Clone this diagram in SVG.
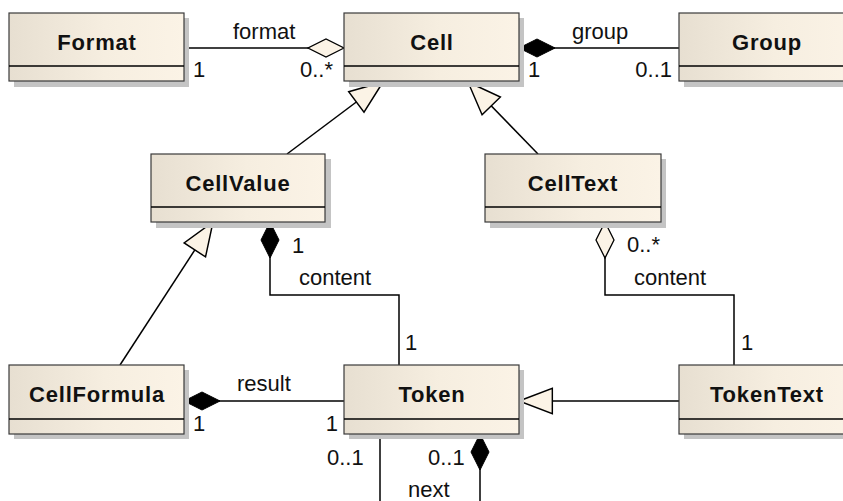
<svg xmlns="http://www.w3.org/2000/svg" width="843" height="501" viewBox="0 0 843 501">
<defs>
<linearGradient id="fill" x1="0" y1="0" x2="1" y2="0">
<stop offset="0" stop-color="#E7DFD1"/>
<stop offset="0.55" stop-color="#F6EEE0"/>
<stop offset="1" stop-color="#FBF3E6"/>
</linearGradient>
<marker id="gen" markerUnits="userSpaceOnUse" markerWidth="40" markerHeight="30" refX="0" refY="0" viewBox="-2 -13 36 26" orient="auto" overflow="visible">
<path d="M0,0 L30,-11.5 L30,11.5 Z" fill="#FBF3E6" stroke="#000" stroke-width="1.3" stroke-linejoin="miter"/>
</marker>
<marker id="comp" markerUnits="userSpaceOnUse" markerWidth="40" markerHeight="24" refX="0" refY="0" viewBox="-2 -11 40 22" orient="auto" overflow="visible">
<path d="M0,0 L18,-9 L36,0 L18,9 Z" fill="#000" stroke="#000" stroke-width="1"/>
</marker>
<marker id="agg" markerUnits="userSpaceOnUse" markerWidth="40" markerHeight="24" refX="0" refY="0" viewBox="-2 -11 40 22" orient="auto" overflow="visible">
<path d="M0,0 L18,-9 L36,0 L18,9 Z" fill="#FBF3E6" stroke="#000" stroke-width="1.3"/>
</marker>
</defs>
<style>
.shadow{fill:#C4C4C4}
.box{fill:url(#fill);stroke:#3A3A3A;stroke-width:1.2}
.div{stroke:#000;stroke-width:1.6}
.name{font-family:"Liberation Sans",Arial,sans-serif;font-size:22px;font-weight:bold;letter-spacing:0.8px;fill:#111;text-anchor:middle}
.lbl{font-family:"Liberation Sans",Arial,sans-serif;font-size:22px;fill:#111}
.c{fill:none;stroke:#000;stroke-width:1.5}
</style>
<g id="connectors">
<path class="c" d="M344,48 H184" marker-start="url(#agg)"/>
<path class="c" d="M519,48 H679" marker-start="url(#comp)"/>
<path class="c" d="M383,82 L287,154" marker-start="url(#gen)"/>
<path class="c" d="M468,82 L538,154" marker-start="url(#gen)"/>
<path class="c" d="M213,222 L120,365" marker-start="url(#gen)"/>
<path class="c" d="M270,222 V295 H399 V365" marker-start="url(#comp)"/>
<path class="c" d="M605,222 V295 H734 V365" marker-start="url(#agg)"/>
<path class="c" d="M184,401 H344" marker-start="url(#comp)"/>
<path class="c" d="M519,401 H679" marker-start="url(#gen)"/>
<path class="c" d="M380,434 V501"/>
<path class="c" d="M480,434 V501" marker-start="url(#comp)"/>
<text class="lbl" x="233" y="39">format</text>
<text class="lbl" x="193" y="77">1</text>
<text class="lbl" x="300" y="77">0..*</text>
<text class="lbl" x="572" y="39">group</text>
<text class="lbl" x="528" y="77">1</text>
<text class="lbl" x="672" y="77" text-anchor="end">0..1</text>
<text class="lbl" x="292" y="253">1</text>
<text class="lbl" x="299" y="285">content</text>
<text class="lbl" x="405" y="350">1</text>
<text class="lbl" x="627" y="252">0..*</text>
<text class="lbl" x="634" y="285">content</text>
<text class="lbl" x="741" y="350">1</text>
<text class="lbl" x="237" y="391">result</text>
<text class="lbl" x="193" y="431">1</text>
<text class="lbl" x="338" y="431" text-anchor="end">1</text>
<text class="lbl" x="327" y="465">0..1</text>
<text class="lbl" x="428" y="465">0..1</text>
<text class="lbl" x="408" y="497">next</text>
</g>
<g id="Format">
<rect class="shadow" x="14" y="18" width="175" height="69"/>
<rect class="box" x="9" y="13" width="175" height="68"/>
<line class="div" x1="9" y1="66" x2="184" y2="66"/>
<text class="name" x="97" y="50">Format</text>
</g>
<g id="Cell">
<rect class="shadow" x="349" y="18" width="175" height="69"/>
<rect class="box" x="344" y="13" width="175" height="68"/>
<line class="div" x1="344" y1="66" x2="519" y2="66"/>
<text class="name" x="432" y="50">Cell</text>
</g>
<g id="Group">
<rect class="shadow" x="684" y="18" width="175" height="69"/>
<rect class="box" x="679" y="13" width="175" height="68"/>
<line class="div" x1="679" y1="66" x2="854" y2="66"/>
<text class="name" x="767" y="50">Group</text>
</g>
<g id="CellValue">
<rect class="shadow" x="156" y="159" width="175" height="69"/>
<rect class="box" x="151" y="154" width="174" height="68"/>
<line class="div" x1="151" y1="207" x2="325" y2="207"/>
<text class="name" x="238" y="191">CellValue</text>
</g>
<g id="CellText">
<rect class="shadow" x="490" y="159" width="176" height="69"/>
<rect class="box" x="485" y="154" width="176" height="68"/>
<line class="div" x1="485" y1="207" x2="661" y2="207"/>
<text class="name" x="573" y="191">CellText</text>
</g>
<g id="CellFormula">
<rect class="shadow" x="14" y="370" width="175" height="69"/>
<rect class="box" x="9" y="365" width="175" height="69"/>
<line class="div" x1="9" y1="419" x2="184" y2="419"/>
<text class="name" x="97" y="402">CellFormula</text>
</g>
<g id="Token">
<rect class="shadow" x="349" y="370" width="175" height="69"/>
<rect class="box" x="344" y="365" width="175" height="69"/>
<line class="div" x1="344" y1="419" x2="519" y2="419"/>
<text class="name" x="432" y="402">Token</text>
</g>
<g id="TokenText">
<rect class="shadow" x="684" y="370" width="175" height="69"/>
<rect class="box" x="679" y="365" width="175" height="69"/>
<line class="div" x1="679" y1="419" x2="854" y2="419"/>
<text class="name" x="767" y="402">TokenText</text>
</g>
</svg>
